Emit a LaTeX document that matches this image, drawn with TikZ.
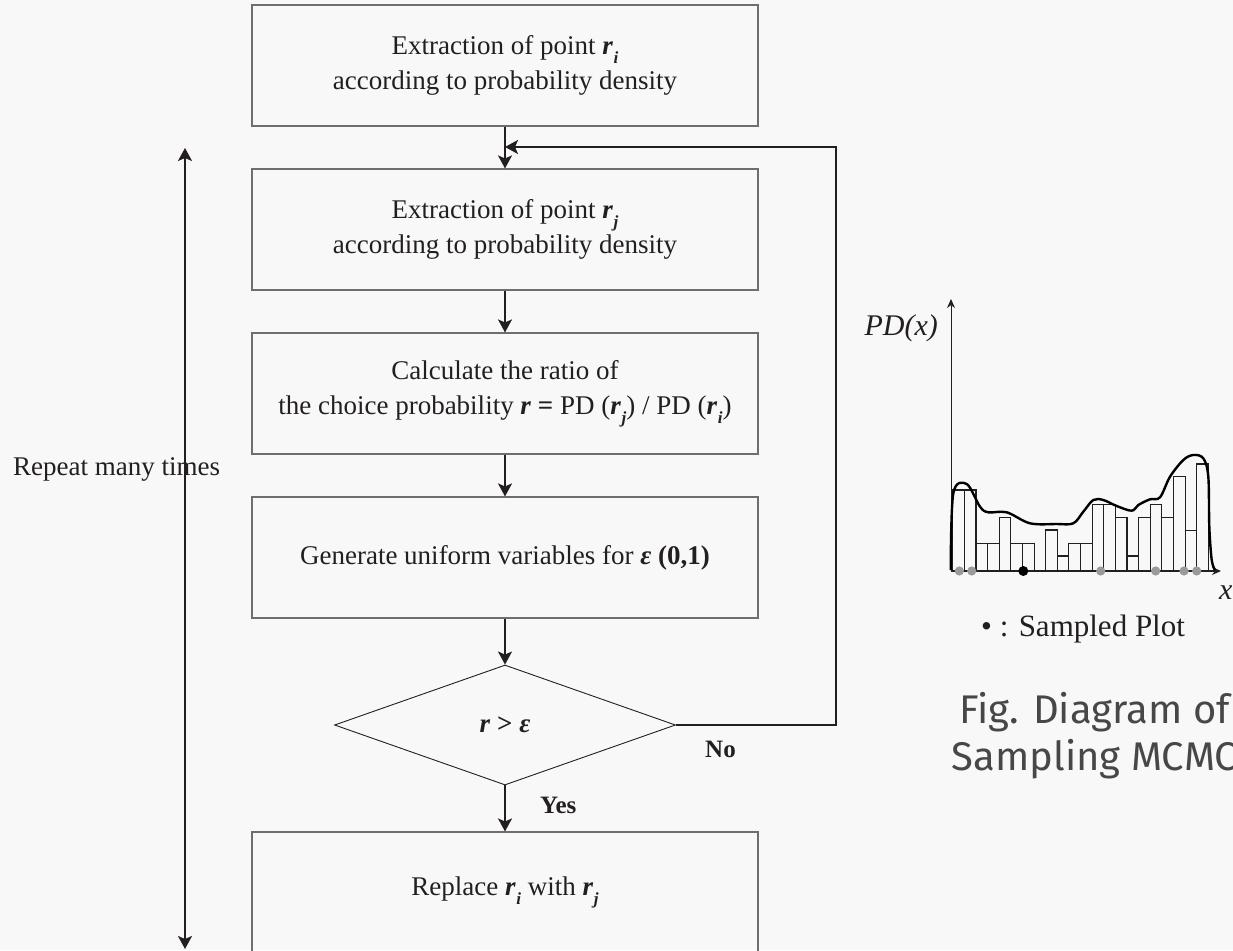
\documentclass[tikz,border=0pt]{standalone}
\usepackage{fontspec}
\setmainfont{Liberation Serif}
\newfontfamily\firafont{Fira Sans}
\usetikzlibrary{arrows.meta,shapes.geometric}
\definecolor{bg}{HTML}{F8F8F8}
\definecolor{ink}{HTML}{231F20}
\definecolor{frame}{HTML}{6E6E6E}
\definecolor{dotgray}{HTML}{9A9A9A}
\definecolor{titlegray}{HTML}{474747}
% bold italic r with a lowered index
\newcommand{\rsub}[1]{\textbf{\textit{r}}\kern0.6pt\raisebox{-0.32em}{\fontsize{17}{17}\selectfont\textbf{\textit{#1}}}}
\newcommand{\bfeps}{\textbf{\textit{ε}}}
\begin{document}
\begin{tikzpicture}[x=1pt,y=-1pt,
  stepbox/.style={draw=frame, line width=1.1pt, minimum width=506pt, minimum height=121pt,
    inner sep=0pt, align=center, font=\fontsize{27}{35}\selectfont, text=ink},
  decision/.style={diamond, draw=ink, line width=0.9pt, minimum width=341pt, minimum height=120pt,
    inner sep=0pt, font=\fontsize{27}{35}\selectfont, text=ink},
  flow/.style={draw=ink, line width=1.8pt, -{Stealth[length=13pt,width=14pt,inset=3pt]}},
  lbl/.style={font=\fontsize{25}{30}\selectfont\bfseries, text=ink, inner sep=0pt},
  plain/.style={font=\fontsize{27}{32}\selectfont, text=ink, inner sep=0pt},
  bar/.style={draw=ink, line width=1.1pt},
  density/.style={draw=black, line width=2.4pt, line join=round},
  axisline/.style={draw=ink, line width=0.9pt, -{Stealth[length=9pt,width=8pt]}},
  title/.style={font=\firafont\fontsize{40}{47}\selectfont, text=titlegray, inner sep=0pt}
]
\fill[bg] (0,0) rectangle (1233,950);
\useasboundingbox (0,0) rectangle (1233,950);
\clip (0,0) rectangle (1233,950);

% ---- flowchart ----
\node[stepbox] (b1) at (505,65.5) {Extraction of point \rsub{i}\\according to probability density};
\node[stepbox] (b2) at (505,229.5) {Extraction of point \rsub{j}\\according to probability density};
\node[stepbox] (b3) at (505,393.5) {Calculate the ratio of\\the choice probability \textbf{\textit{r}} \textbf{=} PD (\rsub{j}) / PD (\rsub{i})};
\node[stepbox] (b4) at (505,557.5) {Generate uniform variables for \bfeps\ \textbf{(0,1)}};
\node[decision] (dec) at (505,725) {\textbf{\textit{r}} \textbf{>} \bfeps};
\node[stepbox] (b5) at (505,892.5) {Replace \rsub{i} with \rsub{j}};

\draw[flow] (b1) -- (b2);
\draw[flow] (b2) -- (b3);
\draw[flow] (b3) -- (b4);
\draw[flow] (b4) -- (dec);
\draw[flow] (dec) -- (b5);

% loop back from the "No" branch
\coordinate (join) at (505,147);
\coordinate (corner) at (836,147);
\draw[flow] (dec.east) -| (corner) -- (join);

\node[lbl, anchor=base west] (yes) at (540,813) {Yes};
\node[lbl, anchor=base west] (no) at (705,757) {No};

% repetition span
\coordinate (rtop) at (185,148);
\coordinate (rbot) at (185,949);
\draw[draw=ink, line width=1.8pt, {Stealth[length=13pt,width=14pt,inset=3pt]}-{Stealth[length=13pt,width=14pt,inset=3pt]}] (rtop) -- (rbot);
\node[plain, anchor=base west] (rep) at (13,475) {Repeat many times};

% ---- sampling sketch ----
\foreach \k/\t in {0/490,1/490,2/543.3,3/543.3,4/517.3,5/543.3,6/543.3,
                   8/530,9/556,10/543.3,11/543.3,12/504.3,13/504.3,14/517.3,
                   15/556,16/517.3,17/504.3,18/517.3,19/476.7,20/530.7,21/464}
  \draw[bar] ({952.7+\k*11.62},571) rectangle ({952.7+(\k+1)*11.62},\t);

\coordinate (origin) at (951,571);
\coordinate (ytip) at (951,299);
\coordinate (xtip) at (1221,571);
\draw[axisline] (origin) -- (ytip);
\draw[axisline, line width=1.8pt] (origin) -- (xtip);

\draw[density] plot[smooth, tension=0.55] coordinates {
  (950.7,570) (953.3,493.3) (966.7,484) (980,506.7) (988.3,512.3) (1006.7,512.3)
  (1030,523.3) (1056.7,524) (1073.3,523.3) (1083.3,511.7) (1093.3,500) (1103.3,500)
  (1116.7,506) (1131.7,510.7) (1138.3,505) (1150,499.3) (1160,497.3) (1170,476.7)
  (1183.3,460) (1193.3,455) (1203.3,458.3) (1208.3,476.7) (1209.3,526.7)
  (1211.7,560) (1215,570)};

\foreach \p in {959.3,971.7,1100.7,1155.7,1184,1196.7}
  \fill[dotgray] (\p,571) circle (4.6pt);
\fill[black] (1023.3,571) circle (5pt);

\node[plain, font=\fontsize{30}{34}\selectfont\itshape, anchor=east] (pdlab) at (938,328) {PD(x)};
\node[plain, font=\fontsize{30}{34}\selectfont\itshape, anchor=west] (xlab) at (1219,593) {x};
\node[plain, font=\fontsize{31}{36}\selectfont, anchor=west] (legend) at (981,629) {• : Sampled Plot};

\node[title, anchor=base] (t1) at (1094.5,723) {Fig. Diagram of};
\node[title, anchor=base] (t2) at (1094.5,770) {Sampling MCMC};
\end{tikzpicture}
\end{document}
